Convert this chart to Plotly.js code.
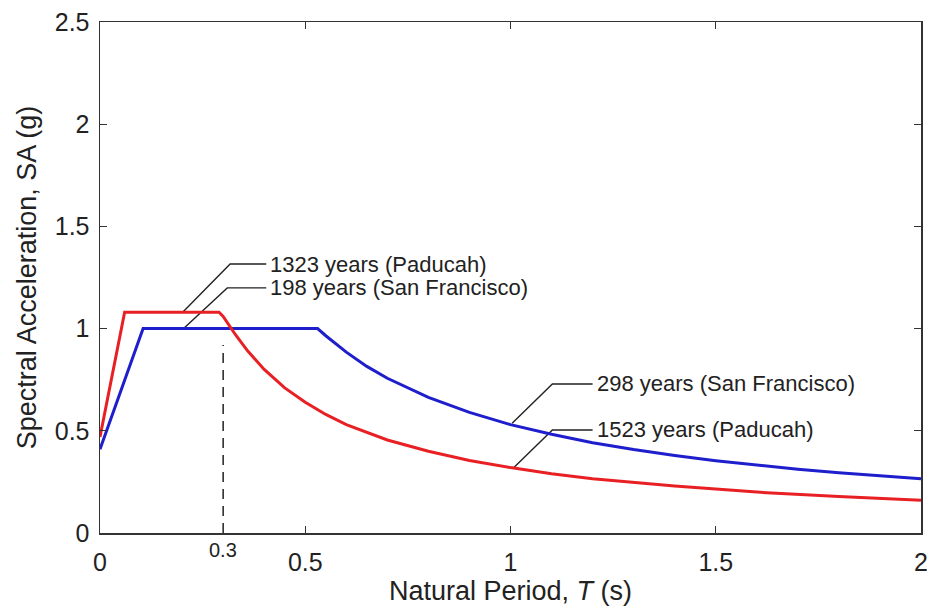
<!DOCTYPE html>
<html>
<head>
<meta charset="utf-8">
<script src="https://cdn.plot.ly/plotly-3.0.1.min.js"></script>
<style>html,body{margin:0;padding:0;background:#fff;}#chart{width:927px;height:608px;}</style>
</head>
<body>
<div id="chart"></div>
<script>
// Paducah spectrum (red)
const paducahT  = [0, 0.06, 0.29, 0.30, 0.33, 0.36, 0.40, 0.45, 0.50, 0.55, 0.60, 0.70, 0.80, 0.90, 1.00, 1.10, 1.20, 1.40, 1.60, 1.80, 2.00];
const paducahSA = [0.47, 1.08, 1.08, 1.06, 0.97, 0.89, 0.80, 0.71, 0.64, 0.58, 0.53, 0.455, 0.40, 0.355, 0.32, 0.29, 0.265, 0.23, 0.20, 0.178, 0.16];
// San Francisco spectrum (blue)
const sfT  = [0, 0.105, 0.53, 0.55, 0.60, 0.65, 0.70, 0.80, 0.90, 1.00, 1.10, 1.20, 1.30, 1.40, 1.50, 1.60, 1.70, 1.80, 1.90, 2.00];
const sfSA = [0.41, 1.00, 1.00, 0.965, 0.885, 0.815, 0.757, 0.663, 0.59, 0.53, 0.483, 0.442, 0.408, 0.379, 0.354, 0.332, 0.312, 0.295, 0.279, 0.265];
// dashed marker at T = 0.3 s
const markT  = [0.3, 0.3];
const markSA = [0, 0.92];
// leader lines (tip, elbow, end) for each label
const labels = ["1323 years (Paducah)", "198 years (San Francisco)", "298 years (San Francisco)", "1523 years (Paducah)"];
const leaderX = [[0.202, 0.317, 0.405], [0.205, 0.310, 0.405], [1.004, 1.102, 1.200], [1.007, 1.102, 1.200]];
const leaderY = [[1.081, 1.316, 1.316], [1.003, 1.199, 1.199], [0.537, 0.729, 0.729], [0.318, 0.504, 0.504]];
const xTicks = [0, 0.5, 1, 1.5, 2];
const xTickText = ["0", "0.5", "1", "1.5", "2"];
const yTicks = [0, 0.5, 1, 1.5, 2, 2.5];
const yTickText = ["0", "0.5", "1", "1.5", "2", "2.5"];

const FONT = "Liberation Sans, Arial, Helvetica, sans-serif";
const traces = [];
leaderX.forEach((lx, i) => {
  traces.push({x: lx, y: leaderY[i], mode: "lines", line: {color: "#222", width: 1.4}, hoverinfo: "skip", showlegend: false});
});
traces.push({x: markT, y: markSA, mode: "lines", line: {color: "#222", width: 1.5, dash: "10px,7px"}, showlegend: false});
traces.push({x: sfT, y: sfSA, mode: "lines", line: {color: "rgb(30,30,205)", width: 3}, showlegend: false});
traces.push({x: paducahT, y: paducahSA, mode: "lines", line: {color: "rgb(232,32,36)", width: 3}, showlegend: false});

const annotations = labels.map((t, i) => ({
  x: leaderX[i][2], y: leaderY[i][2], xref: "x", yref: "y", text: t, showarrow: false,
  xanchor: "left", yanchor: "middle", xshift: 2,
  font: {family: FONT, size: 22, color: "#222"}
}));
annotations.push({x: 0.3, y: 0, xref: "x", yref: "y", text: "0.3", showarrow: false,
  xanchor: "center", yanchor: "top", yshift: -4, font: {family: FONT, size: 20, color: "#222"}});

const axisCommon = {
  showgrid: false, zeroline: false, showline: true, mirror: "ticks",
  linecolor: "#333", linewidth: 1.5, ticks: "inside", ticklen: 7, tickwidth: 1.3, tickcolor: "#333",
  tickfont: {family: FONT, size: 25, color: "#222"}, ticklabeloverflow: "allow"
};
const layout = {
  width: 927, height: 608,
  margin: {l: 100, r: 6, t: 22, b: 75},
  paper_bgcolor: "#fff", plot_bgcolor: "#fff",
  xaxis: Object.assign({}, axisCommon, {
    range: [0, 2], tickmode: "array", tickvals: xTicks, ticktext: xTickText,
    ticklabelstandoff: 6,
    title: {text: "Natural Period, <i>T</i> (s)", font: {family: FONT, size: 27, color: "#222"}, standoff: 6}
  }),
  yaxis: Object.assign({}, axisCommon, {
    range: [0, 2.5], tickmode: "array", tickvals: yTicks, ticktext: yTickText,
    ticklabelstandoff: 4,
    title: {text: "Spectral Acceleration, SA (g)", font: {family: FONT, size: 27, color: "#222"}, standoff: 10}
  }),
  annotations: annotations
};
Plotly.newPlot("chart", traces, layout, {displayModeBar: false, staticPlot: true});
</script>
</body>
</html>
